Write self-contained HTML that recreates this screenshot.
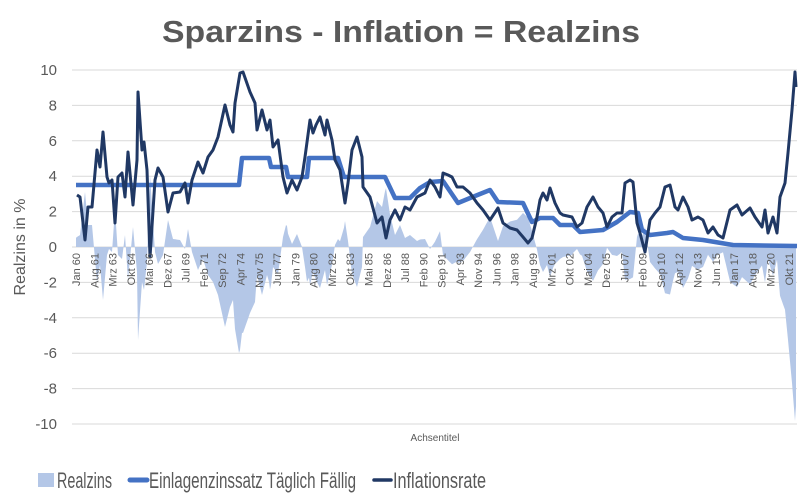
<!DOCTYPE html>
<html><head><meta charset="utf-8"><style>
html,body{margin:0;padding:0;background:#fff;}
svg{display:block;font-family:"Liberation Sans",sans-serif;}
</style></head><body>
<svg id="c" width="803" height="500" viewBox="0 0 803 500" xmlns="http://www.w3.org/2000/svg">
<text x="401" y="42" text-anchor="middle" font-size="31" font-weight="bold" fill="#595959" textLength="478" lengthAdjust="spacingAndGlyphs">Sparzins - Inflation = Realzins</text>
<g id="grid"></g>
<g id="area"></g>
<g id="lines"></g>
<g id="xl" font-size="11" fill="#595959"></g>
<text x="0" y="0" transform="translate(25,247) rotate(-90)" text-anchor="middle" font-size="16" fill="#595959">Realzins in %</text>
<text x="435" y="441" text-anchor="middle" font-size="10" fill="#595959">Achsentitel</text>
<rect x="38" y="473" width="16" height="14" fill="#b4c7e7"/>
<text x="57" y="488" font-size="22" fill="#595959" textLength="55" lengthAdjust="spacingAndGlyphs">Realzins</text>
<line x1="130" y1="480" x2="147" y2="480" stroke="#4472c4" stroke-width="5" stroke-linecap="round"/>
<text x="149" y="488" font-size="22" fill="#595959" textLength="207" lengthAdjust="spacingAndGlyphs">Einlagenzinssatz Täglich Fällig</text>
<line x1="374" y1="480" x2="391" y2="480" stroke="#203864" stroke-width="3.5" stroke-linecap="round"/>
<text x="393" y="488" font-size="22" fill="#595959" textLength="93" lengthAdjust="spacingAndGlyphs">Inflationsrate</text>
</svg>
<script>
var NS="http://www.w3.org/2000/svg";
function el(p,t,a,txt){var e=document.createElementNS(NS,t);for(var k in a)e.setAttribute(k,a[k]);if(txt!=null)e.textContent=txt;document.getElementById(p).appendChild(e);return e;}
var X0=72,X1=797;
for(var v=10;v>=-10;v-=2){var y=247-v*17.7;
 el("grid","line",{x1:X0,x2:X1,y1:y,y2:y,stroke:"#d9d9d9","stroke-width":1});
 el("grid","text",{x:57,y:y+5,"text-anchor":"end","font-size":15,fill:"#595959"},String(v));}
var inf=[[77,195],[80,197],[85,240],[88,207],[92,207],[97,150],[100,167],[103,132],[107,177],[109,183],[112,180],[115,223],[118,177],[122,173],[125,197],[128,152],[133,205],[137,160],[138,92],[142,150],[144,142],[147,170],[150,257],[155,180],[158,168],[163,177],[168,212],[173,193],[180,192],[185,183],[188,203],[192,180],[198,162],[203,173],[208,157],[213,150],[218,137],[225,105],[230,125],[233,132],[235,103],[240,73],[243,72],[250,92],[255,103],[257,130],[262,110],[267,130],[270,120],[273,147],[278,140],[283,177],[287,193],[292,180],[297,190],[302,177],[305,157],[310,120],[313,133],[316,125],[320,117],[325,135],[327,120],[332,140],[335,160],[340,170],[345,203],[348,183],[352,150],[357,137],[362,157],[363,187],[370,197],[377,223],[382,217],[386,238],[390,220],[395,210],[400,220],[405,207],[410,210],[417,197],[425,193],[430,180],[435,187],[440,197],[443,173],[448,175],[452,177],[457,187],[463,187],[470,193],[477,203],[483,210],[490,220],[498,208],[503,223],[510,228],[517,230],[523,237],[528,243],[532,238],[537,217],[540,200],[543,193],[547,200],[550,188],[555,203],[560,213],[563,215],[572,217],[577,227],[582,223],[587,207],[593,197],[598,207],[603,213],[607,227],[612,217],[617,213],[622,213],[625,183],[630,180],[633,182],[637,223],[640,233],[645,252],[650,220],[655,213],[660,207],[665,187],[670,185],[675,207],[678,210],[683,197],[688,207],[692,220],[698,217],[703,220],[708,233],[713,227],[718,235],[723,238],[730,210],[737,205],[742,215],[750,208],[755,217],[762,227],[765,210],[768,233],[773,217],[777,233],[780,197],[785,183],[788,153],[792,110],[795,72],[796,87]];
var dep=[[76,185],[239,185],[242,158],[269,158],[271,167],[286,167],[288,177],[307,177],[309,158],[338,158],[344,177],[385,177],[395,198],[410,198],[420,188],[430,182],[443,181],[458,203],[475,196],[490,190],[498,202],[523,203],[532,222],[540,218],[553,218],[560,225],[573,225],[580,232],[603,230],[617,222],[630,212],[638,213],[642,230],[650,235],[667,233],[673,232],[683,238],[703,240],[733,245],[797,246]];
function interp(s,x){for(var i=1;i<s.length;i++){if(x<=s[i][0]){var a=s[i-1],b=s[i];var t=(x-a[0])/((b[0]-a[0])||1);return a[1]+t*(b[1]-a[1]);}}return s[s.length-1][1];}
var pts="76,247 ";
for(var x=76;x<=796;x+=1){var y=247+interp(dep,x)-interp(inf,x);pts+=x+","+y.toFixed(1)+" ";}
pts+="796,247";
el("area","polygon",{points:pts,fill:"#b4c7e7"});
el("lines","polyline",{points:dep.map(function(p){return p.join(",")}).join(" "),fill:"none",stroke:"#4472c4","stroke-width":4.5,"stroke-linejoin":"round"});
el("lines","polyline",{points:inf.map(function(p){return p.join(",")}).join(" "),fill:"none",stroke:"#203864","stroke-width":3,"stroke-linejoin":"round"});
var mon=["Jan","Feb","Mrz","Apr","Mai","Jun","Jul","Aug","Sep","Okt","Nov","Dez"];
for(var i=0;i<40;i++){var m=i*19;var yr=(60+Math.floor(m/12))%100;var lab=mon[m%12]+" "+(yr<10?"0"+yr:yr);
 var x=76+i*18.28+4;
 el("xl","text",{transform:"translate("+x+",253) rotate(-90)","text-anchor":"end"},lab);}
</script>
</body></html>
